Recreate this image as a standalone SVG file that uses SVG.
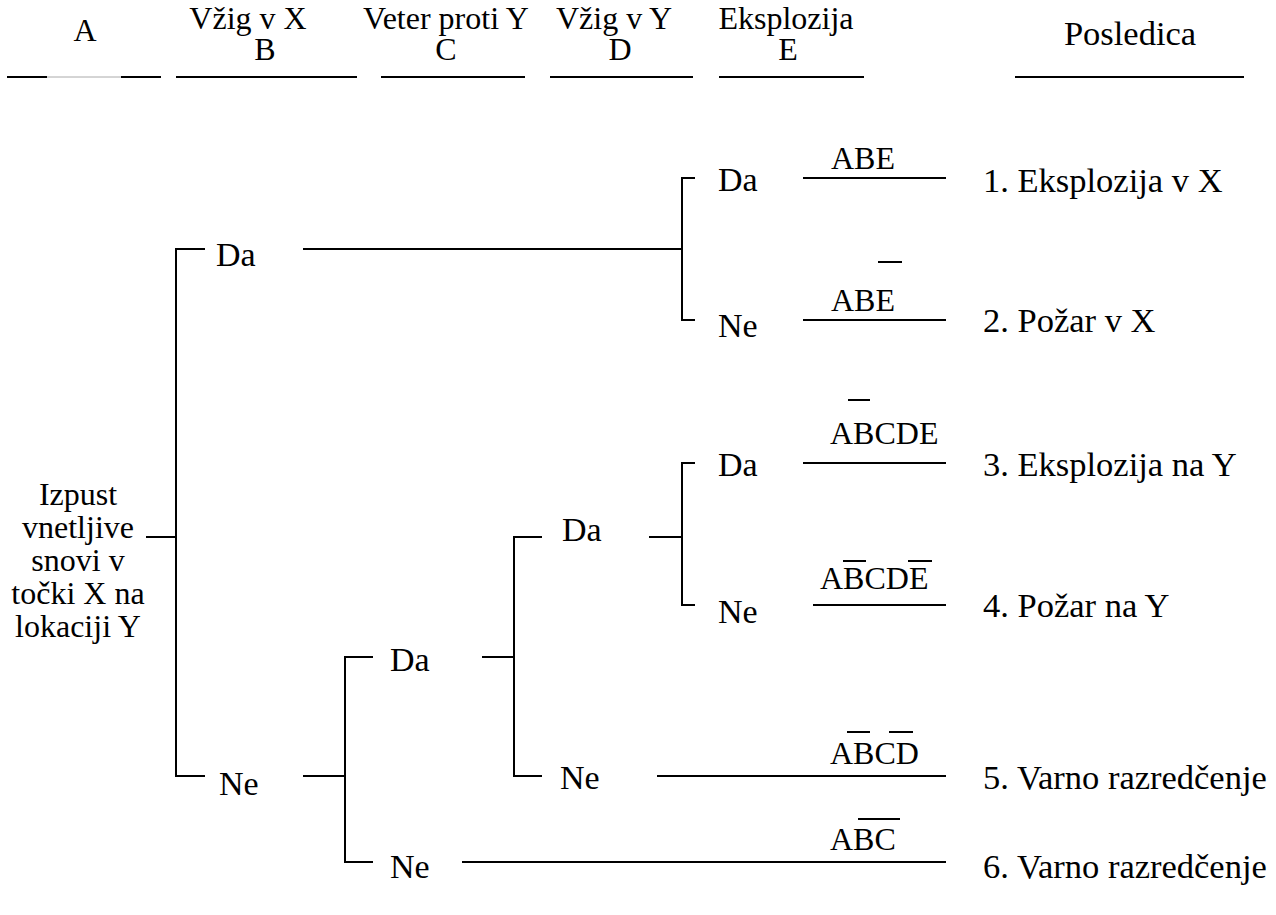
<svg xmlns="http://www.w3.org/2000/svg" width="1276" height="915" viewBox="0 0 1276 915">
  <style>
    text { font-family: "Liberation Serif", "Times New Roman", serif; font-size: 32px; fill: #000; }
    .c { text-anchor: middle; }
    .br { font-size: 34px; }
    .big { font-size: 34.5px; }
    .ln { stroke: #000; stroke-width: 2; fill: none; }
    .faint { stroke: #aaa; stroke-width: 1; }
  </style>
  <rect width="1276" height="915" fill="#fff"/>

  <!-- column headings -->
  <g id="headings">
    <text class="c" x="85" y="41">A</text>
    <text class="c" x="248" y="29">Vžig v X</text>
    <text class="c" x="265" y="60">B</text>
    <text class="c" x="446" y="29">Veter proti Y</text>
    <text class="c" x="446" y="60">C</text>
    <text class="c" x="614" y="29">Vžig v Y</text>
    <text class="c" x="620" y="60">D</text>
    <text class="c" x="786" y="29">Eksplozija</text>
    <text class="c" x="788" y="60">E</text>
    <text class="c big" x="1130" y="45">Posledica</text>
    <line class="ln" x1="7" y1="77" x2="47" y2="77"/>
    <line class="faint" x1="47" y1="77" x2="121" y2="77"/>
    <line class="ln" x1="121" y1="77" x2="161" y2="77"/>
    <line class="ln" x1="176" y1="77" x2="357" y2="77"/>
    <line class="ln" x1="381" y1="77" x2="525" y2="77"/>
    <line class="ln" x1="550" y1="77" x2="693" y2="77"/>
    <line class="ln" x1="719" y1="77" x2="864" y2="77"/>
    <line class="ln" x1="1015" y1="77" x2="1244" y2="77"/>
  </g>

  <!-- initiating event -->
  <g id="root">
    <text class="c" x="78" y="505">Izpust</text>
    <text class="c" x="78" y="538">vnetljive</text>
    <text class="c" x="78" y="571">snovi v</text>
    <text class="c" x="78" y="604">točki X na</text>
    <text class="c" x="78" y="637">lokaciji Y</text>
  </g>

  <!-- branch labels -->
  <g id="b-da"><text class="br" x="216" y="266">Da</text></g>
  <g id="b-ne"><text class="br" x="219" y="795">Ne</text></g>
  <g id="e1-da"><text class="br" x="718" y="191">Da</text></g>
  <g id="e1-ne"><text class="br" x="718" y="337">Ne</text></g>
  <g id="c-da"><text class="br" x="390" y="671">Da</text></g>
  <g id="c-ne"><text class="br" x="390" y="878">Ne</text></g>
  <g id="d-da"><text class="br" x="562" y="541">Da</text></g>
  <g id="d-ne"><text class="br" x="560" y="789">Ne</text></g>
  <g id="e2-da"><text class="br" x="718" y="476">Da</text></g>
  <g id="e2-ne"><text class="br" x="718" y="623">Ne</text></g>

  <!-- sequence expressions -->
  <g id="seq1"><text x="831" y="169">ABE</text></g>
  <g id="seq2"><text x="831" y="311">ABE</text><line class="ln" x1="878" y1="262" x2="902" y2="262"/></g>
  <g id="seq3"><text x="830" y="444">ABCDE</text><line class="ln" x1="848" y1="400" x2="870" y2="400"/></g>
  <g id="seq4"><text x="820" y="589">ABCDE</text><line class="ln" x1="843" y1="561" x2="866" y2="561"/><line class="ln" x1="908" y1="561" x2="932" y2="561"/></g>
  <g id="seq5"><text x="830" y="764">ABCD</text><line class="ln" x1="847" y1="732" x2="870" y2="732"/><line class="ln" x1="889" y1="732" x2="913" y2="732"/></g>
  <g id="seq6"><text x="830" y="850">ABC</text><line class="ln" x1="858" y1="819" x2="900" y2="819"/></g>

  <!-- outcomes -->
  <g id="out1"><text class="big" x="983" y="192">1. Eksplozija v X</text></g>
  <g id="out2"><text class="big" x="983" y="332">2. Požar v X</text></g>
  <g id="out3"><text class="big" x="983" y="476">3. Eksplozija na Y</text></g>
  <g id="out4"><text class="big" x="983" y="617">4. Požar na Y</text></g>
  <g id="out5"><text class="big" x="983" y="789">5. Varno razredčenje</text></g>
  <g id="out6"><text class="big" x="983" y="878">6. Varno razredčenje</text></g>

  <!-- tree connectors -->
  <g id="connectors" class="ln">
    <line x1="146" y1="537" x2="176" y2="537"/>
    <path d="M205 249 H176 V776 H205"/>
    <line x1="303" y1="249" x2="682" y2="249"/>
    <path d="M695 178 H682 V320 H695"/>
    <line x1="803" y1="178" x2="946" y2="178"/>
    <line x1="803" y1="320" x2="946" y2="320"/>
    <line x1="303" y1="776" x2="345" y2="776"/>
    <path d="M373 657 H345 V862 H373"/>
    <line x1="482" y1="657" x2="514" y2="657"/>
    <path d="M542 537 H514 V776 H542"/>
    <line x1="649" y1="537" x2="682" y2="537"/>
    <path d="M695 463 H682 V605 H695"/>
    <line x1="803" y1="463" x2="946" y2="463"/>
    <line x1="813" y1="605" x2="946" y2="605"/>
    <line x1="657" y1="776" x2="946" y2="776"/>
    <line x1="462" y1="862" x2="946" y2="862"/>
  </g>
</svg>
